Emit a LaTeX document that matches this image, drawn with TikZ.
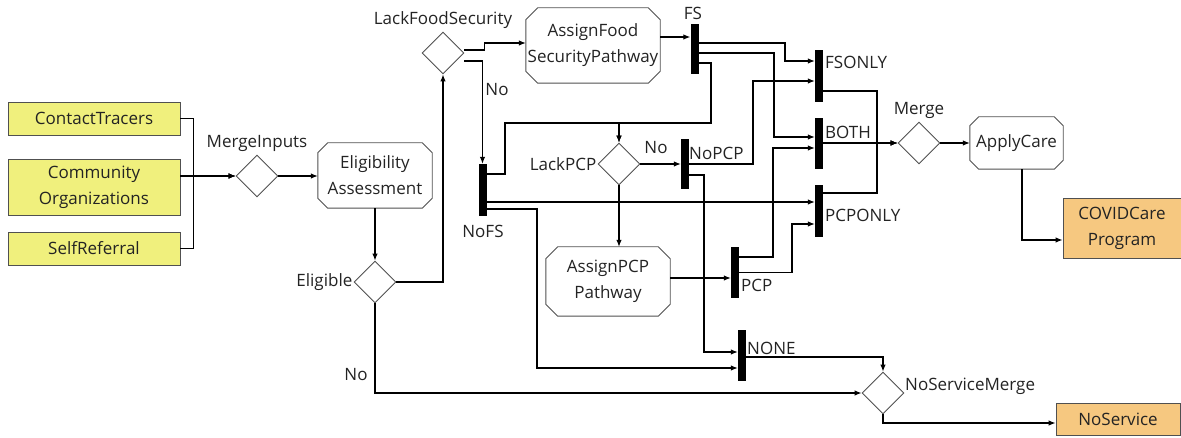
\documentclass[tikz,border=0pt]{standalone}
\usepackage{fontspec}
\setmainfont{Open Sans}
\usetikzlibrary{arrows.meta,shapes.geometric,calc}
\definecolor{srcyel}{RGB}{240,240,125}
\definecolor{outorg}{RGB}{246,200,128}
\definecolor{txt}{RGB}{35,35,35}
\definecolor{edge}{RGB}{80,80,80}
\tikzset{
  every node/.style={text=txt, font=\fontsize{17}{26}\selectfont},
  src/.style={rectangle, draw=edge, fill=srcyel, line width=0.9pt, minimum width=172pt, align=center, inner sep=0pt},
  outbox/.style={rectangle, draw=edge, fill=outorg, line width=0.9pt, align=center, inner sep=0pt},
  dia/.style={diamond, draw=edge, line width=0.9pt, minimum width=42pt, minimum height=42pt, inner sep=0pt},
  act/.style={rectangle, draw=none, align=center, inner sep=0pt},
  bar/.style={rectangle, fill=black, draw=none, minimum width=8pt, minimum height=51pt, inner sep=0pt},
  lbl/.style={inner sep=1pt},
  arr/.style={-{Latex[length=7pt,width=5.5pt]}, line width=1.1pt, black},
}
\newcommand{\chamferbox}[2]{%
  \draw[edge, line width=0.9pt]
    ([xshift=#2]#1.north west) -- ([xshift=-#2]#1.north east) -- ([yshift=-#2]#1.north east)
    -- ([yshift=#2]#1.south east) -- ([xshift=-#2]#1.south east) -- ([xshift=#2]#1.south west)
    -- ([yshift=#2]#1.south west) -- ([yshift=-#2]#1.north west) -- cycle;}
\begin{document}
\begin{tikzpicture}[x=1pt, y=-1pt]
\useasboundingbox (0,0) rectangle (1181,438);

% sources
\node[src, minimum height=33pt] (ct) at (94,118.5) {ContactTracers};
\node[src, minimum height=56pt] (co) at (94,187) {Community\\Organizations};
\node[src, minimum height=33pt] (sr) at (94,248.5) {SelfReferral};

% diamonds
\node[dia] (mi) at (257,176) {};
\node[lbl] (miL) at (257,143) {MergeInputs};
\node[dia] (lfs) at (443,53) {};
\node[lbl] (lfsL) at (443,20) {LackFoodSecurity};
\node[dia] (el) at (375,282) {};
\node[lbl, anchor=east] (elL) at (el.west) {Eligible};
\node[dia] (lpcp) at (619,164) {};
\node[lbl, anchor=east] (lpcpL) at (lpcp.west) {LackPCP};
\node[dia] (mg) at (919,143) {};
\node[lbl] (mgL) at (919,110) {Merge};
\node[dia] (nsm) at (883,393) {};
\node[lbl, anchor=west] (nsmL) at (904,386) {NoServiceMerge};

% activities
\node[act, minimum width=114pt, minimum height=65pt] (ea) at (375,175.5) {Eligibility\\Assessment};
\node[act, minimum width=134pt, minimum height=75pt] (af) at (593,45.5) {AssignFood\\SecurityPathway};
\node[act, minimum width=124pt, minimum height=69pt] (ap) at (608,281.5) {AssignPCP\\Pathway};
\node[act, minimum width=93pt, minimum height=52pt] (ac) at (1016.5,143) {ApplyCare};
\chamferbox{ea}{10pt}
\chamferbox{af}{12pt}
\chamferbox{ap}{12pt}
\chamferbox{ac}{9pt}

% outputs
\node[outbox, minimum width=118pt, minimum height=60pt] (cc) at (1122,228) {COVIDCare\\Program};
\node[outbox, minimum width=124pt, minimum height=32pt] (ns) at (1118,419) {NoService};

% bars
\node[bar, minimum height=50pt] (fs) at (694.5,49) {};
\node[lbl] (fsL) at (693,13) {FS};
\node[bar, minimum height=52pt] (fsonly) at (819,76) {};
\node[lbl, anchor=west] (fsonlyL) at (824,62) {FSONLY};
\node[bar] (both) at (819,143.5) {};
\node[lbl, anchor=west] (bothL) at (824,132) {BOTH};
\node[bar, minimum height=52pt] (pcponly) at (819,211) {};
\node[lbl, anchor=west] (pcponlyL) at (824,215) {PCPONLY};
\node[bar, minimum height=50pt] (nopcp) at (685,164) {};
\node[lbl, anchor=west] (nopcpL) at (688,153) {NoPCP};
\node[bar, minimum height=52pt] (nofs) at (482.5,190) {};
\node[lbl] (nofsL) at (483,231) {NoFS};
\node[bar] (pcp) at (735,272.5) {};
\node[lbl, anchor=west] (pcpL) at (740,285) {PCP};
\node[bar] (none) at (742,355.5) {};
\node[lbl, anchor=west] (noneL) at (746,348) {NONE};

% connectors
\draw[arr] (ct.east) -- ++(13,0) |- (mi.west);
\draw[arr] (co.east |- mi.west) -- (mi.west);
\draw[arr] (sr.east) -- ++(13,0) |- (mi.west);
\draw[arr] (mi.east) -- (mi.east -| ea.west);
\draw[arr] (ea.south) -- (ea.south |- el.north);
\draw[arr] (el.east) -| (lfs.south);
\draw[arr] (el.south) |- (nsm.west);
\node[lbl] (noEl) at (356,375) {No};
\draw[arr] ([yshift=3pt]lfs.east) -- ++(20,0) |- ([yshift=2.5pt]af.west);
\draw[arr] ([yshift=-8pt]lfs.east) -| (nofs.north);
\node[lbl] (noLfs) at (497,90) {No};
\draw[arr] ([yshift=8.5pt]af.east) -- ([yshift=8.5pt]af.east -| fs.west);
\draw[arr] ([yshift=6pt]fs.east) -- (785,43) -- (785,61) -- ([yshift=15pt]fsonly.west);
\draw[arr] ([yshift=-4pt]fs.east) -- (774,53) -- (774,137) -- ([yshift=6.5pt]both.west);
\draw[arr] ([yshift=-14pt]fs.east) -- (711,63) -- (711,123) -- (619,123) -- (lpcp.north);
\draw[arr] ([yshift=16pt]nofs.east) -- (505,174) -- (505,123) -- (619,123) -- (lpcp.north);
\draw[arr] ([yshift=-12pt]nofs.east) -- ([yshift=9pt]pcponly.west);
\draw[arr] ([yshift=-19pt]nofs.east) -- (537,209) -- (537,368) -- ([yshift=-12.5pt]none.west);
\draw[arr] (lpcp.east) -- (nopcp.west);
\node[lbl] (noLpcp) at (656,148) {No};
\draw[arr] (lpcp.south) -- (lpcp.south |- ap.north);
\draw[arr] (nopcp.east) -- (753,164) -- (753,81) -- ([yshift=-5pt]fsonly.west);
\draw[arr] ([yshift=-11pt]nopcp.east) -- (704,175) -- (704,352) -- ([yshift=3.5pt]none.west);
\draw[arr] ([yshift=3.5pt]ap.east) -- ([yshift=3.5pt]ap.east -| pcp.west);
\draw[arr] ([yshift=15.5pt]pcp.east) -- (773,257) -- (773,148) -- ([yshift=-4.5pt]both.west);
\draw[arr] (pcp.east) -- (792,272.5) -- (792,224) -- ([yshift=-13pt]pcponly.west);
\draw[arr] ([yshift=-15pt]fsonly.east) -- (877,91) -- (877,143) -- (mg.west);
\draw[arr] (both.east |- mg.west) -- (mg.west);
\draw[arr] ([yshift=18pt]pcponly.east) -- (877,193) -- (877,143) -- (mg.west);
\draw[arr] (mg.east) -- (ac.west);
\draw[arr] ([xshift=5.5pt]ac.south) |- ([yshift=-12pt]cc.west);
\draw[arr] ([yshift=-1.5pt]none.east) -| (nsm.north);
\draw[arr] (nsm.south) |- ([yshift=-4pt]ns.west);
\end{tikzpicture}
\end{document}
